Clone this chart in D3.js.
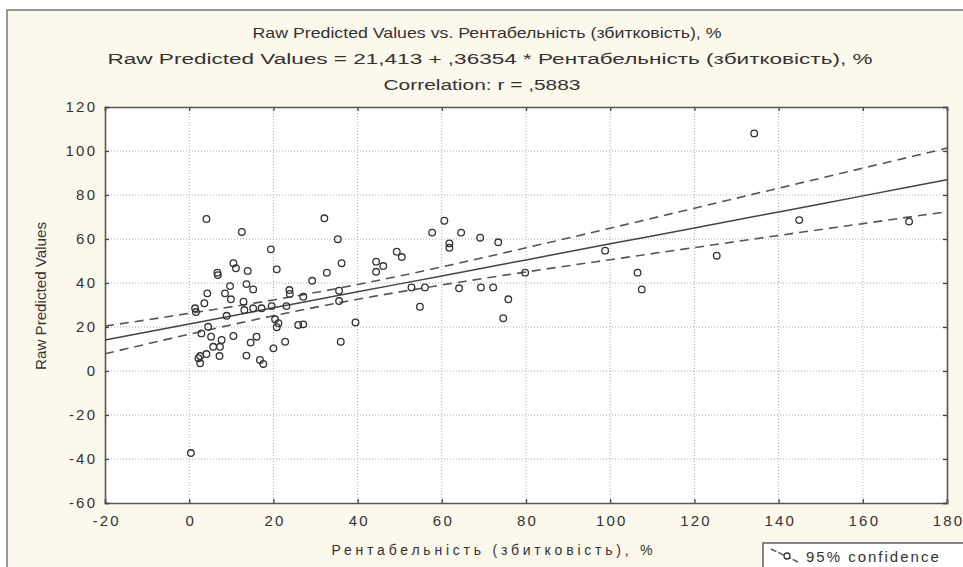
<!DOCTYPE html>
<html>
<head>
<meta charset="utf-8">
<script src="https://cdn.jsdelivr.net/npm/d3@7"></script>
<style>
body { margin: 0; background: #fff; }
svg { display: block; }
text { font-family: "Liberation Sans", Arial, sans-serif; fill: #333; }
</style>
</head>
<body>
<script>
// observed points: Рентабельність (x) and raw predicted value (y)
var xVals = [4.1, 12.5, 0.4, 32.1, 35.3, 19.4, 20.8, 36.2, 32.7, 29.2,
  44.4, 44.4, 46.1, 49.3, 50.5, 60.6, 57.7, 64.6, 69.1, 73.4,
  61.8, 61.8, 79.8, 52.8, 56.0, 64.1, 69.3, 72.2, 54.8, 75.8,
  74.6, 134.2, 98.8, 106.5, 107.5, 125.3, 144.9, 171.0, 10.5, 11.1,
  13.9, 6.7, 6.8, 13.6, 15.2, 9.7, 8.5, 9.9, 4.3, 23.8,
  23.9, 27.1, 35.6, 35.6, 12.9, 13.1, 15.2, 17.2, 3.6, 1.4,
  8.9, 23.1, 19.6, 20.4, 21.2, 20.8, 25.9, 27.1, 39.5, 4.5,
  2.9, 5.2, 10.5, 16.0, 14.6, 7.7, 7.3, 22.8, 36.0, 5.7,
  2.6, 4.1, 7.2, 13.6, 20.0, 2.6, 16.8, 17.6, 2.2, 1.6];
var yVals = [69.1, 63.2, -37.3, 69.4, 59.9, 55.3, 46.2, 49.0, 44.7, 41.0,
  49.7, 45.1, 47.7, 54.2, 51.8, 68.3, 62.9, 62.9, 60.6, 58.5,
  58.0, 56.0, 44.7, 38.0, 38.0, 37.6, 38.0, 38.0, 29.2, 32.6,
  24.0, 108.0, 54.7, 44.7, 37.1, 52.4, 68.6, 67.9, 49.0, 46.7,
  45.5, 44.7, 43.6, 39.5, 37.1, 38.6, 35.3, 32.6, 35.3, 36.8,
  35.0, 33.8, 36.5, 31.8, 31.5, 27.7, 28.5, 28.5, 30.8, 28.5,
  25.1, 29.5, 29.5, 23.5, 21.7, 19.9, 20.9, 21.2, 22.1, 20.1,
  17.1, 15.6, 15.9, 15.6, 12.9, 14.1, 11.0, 13.3, 13.3, 11.0,
  6.8, 7.7, 6.8, 7.0, 10.3, 3.5, 5.0, 3.2, 5.8, 26.8];

// fitted line and 95% confidence band read at these x
var fitX = [-20, 0, 20, 40, 60, 80, 100, 120, 140, 160, 180];
var fitY = [14.1, 21.4, 28.7, 36.0, 43.2, 50.5, 57.8, 65.0, 72.3, 79.6, 86.9];
var upperY = [20.4, 26.2, 32.3, 39.3, 47.3, 56.0, 64.9, 74.0, 83.1, 92.2, 101.3];
var lowerY = [7.8, 16.7, 25.1, 32.6, 39.1, 45.0, 50.6, 56.1, 61.6, 67.0, 72.4];

var xTicks = [-20, 0, 20, 40, 60, 80, 100, 120, 140, 160, 180];
var yTicks = [-60, -40, -20, 0, 20, 40, 60, 80, 100, 120];

var titles = ['Raw Predicted Values vs. Рентабельність (збитковість), %',
  'Raw Predicted Values = 21,413 + ,36354 * Рентабельність (збитковість), %',
  'Correlation: r = ,5883'];

var W = 963, H = 567;
var pLeft = 105, pRight = 947, pTop = 107, pBottom = 503;

var svg = d3.select('body').append('svg').attr('width', W).attr('height', H);

// frame and cream background
svg.append('rect').attr('x', 0).attr('y', 0).attr('width', W).attr('height', H).attr('fill', '#fff');
svg.append('rect').attr('x', 7).attr('y', 10).attr('width', W).attr('height', H)
  .attr('fill', '#fcf8ec').attr('stroke', '#777').attr('stroke-width', 1.5);

var x = d3.scaleLinear().domain([-20, 180]).range([pLeft, pRight]);
var y = d3.scaleLinear().domain([-60, 120]).range([pBottom, pTop]);

svg.append('rect').attr('x', pLeft).attr('y', pTop).attr('width', pRight - pLeft).attr('height', pBottom - pTop)
  .attr('fill', '#fff');

// grid
svg.selectAll('line.gx').data(xTicks.slice(1, -1)).enter().append('line')
  .attr('class', 'gx')
  .attr('x1', d => x(d)).attr('x2', d => x(d)).attr('y1', pTop).attr('y2', pBottom)
  .attr('stroke', '#aaa').attr('stroke-width', 1).attr('stroke-dasharray', '1,2');
svg.selectAll('line.gy').data(yTicks.slice(1, -1)).enter().append('line')
  .attr('class', 'gy')
  .attr('y1', d => y(d)).attr('y2', d => y(d)).attr('x1', pLeft).attr('x2', pRight)
  .attr('stroke', '#aaa').attr('stroke-width', 1).attr('stroke-dasharray', '1,2');

// axes with inner ticks
var fmt = d => String(d);
var ax = svg.append('g').attr('transform', 'translate(0,' + pBottom + ')')
  .call(d3.axisBottom(x).tickValues(xTicks).tickSize(-4).tickPadding(12).tickFormat(fmt));
var axTop = svg.append('g').attr('transform', 'translate(0,' + pTop + ')')
  .call(d3.axisTop(x).tickValues(xTicks).tickSize(-4).tickFormat(''));
var ay = svg.append('g').attr('transform', 'translate(' + pLeft + ',0)')
  .call(d3.axisLeft(y).tickValues(yTicks).tickSize(-4).tickPadding(10).tickFormat(fmt));
var ayR = svg.append('g').attr('transform', 'translate(' + pRight + ',0)')
  .call(d3.axisRight(y).tickValues(yTicks).tickSize(-4).tickFormat(''));

[ax, axTop, ay, ayR].forEach(function(g) {
  g.select('.domain').attr('stroke', '#555').attr('stroke-width', 1.6);
  g.selectAll('.tick line').attr('stroke', '#444').attr('stroke-width', 1.3);
  g.selectAll('text').attr('font-size', 15).attr('font-family', '"Liberation Sans", Arial, sans-serif')
    .attr('fill', '#3a3a3a').style('letter-spacing', '2.2px');
});
// keep right-aligned y labels flush despite trailing spacing
ay.selectAll('text').attr('dx', '2.2px');
ax.selectAll('text').attr('dx', '1.1px');

// fit line and confidence band
var line = (ys) => d3.line().x((d, i) => x(fitX[i])).y(d => y(d)).curve(d3.curveMonotoneX)(ys);
svg.append('path').attr('d', line(fitY)).attr('fill', 'none').attr('stroke', '#444').attr('stroke-width', 1.5);
[upperY, lowerY].forEach(function(ys) {
  svg.append('path').attr('d', line(ys)).attr('fill', 'none').attr('stroke', '#555')
    .attr('stroke-width', 1.6).attr('stroke-dasharray', '9,6');
});

// points
svg.selectAll('circle.pt').data(xVals).enter().append('circle')
  .attr('class', 'pt')
  .attr('cx', d => x(d))
  .attr('cy', (d, i) => y(yVals[i]))
  .attr('r', 3.3)
  .attr('fill', 'none').attr('stroke', '#333').attr('stroke-width', 1.3);

// titles
var titleY = [38, 64, 90], titleLen = [469, 765, 197], titleX = [487, 490, 482];
var titleSize = [15, 14, 14], titleAdj = ['spacingAndGlyphs', 'spacingAndGlyphs', 'spacingAndGlyphs'];
titles.forEach(function(t, i) {
  svg.append('text').attr('x', titleX[i]).attr('y', titleY[i]).attr('text-anchor', 'middle')
    .attr('font-size', titleSize[i]).attr('textLength', titleLen[i]).attr('lengthAdjust', titleAdj[i]).text(t);
});

// axis titles
svg.append('text').attr('x', 492).attr('y', 555).attr('text-anchor', 'middle').attr('font-size', 14)
  .attr('textLength', 321).attr('lengthAdjust', 'spacing').text('Рентабельність (збитковість), %');
svg.append('text').attr('transform', 'translate(46,296) rotate(-90)').attr('text-anchor', 'middle')
  .attr('font-size', 15).attr('textLength', 148).attr('lengthAdjust', 'spacingAndGlyphs').text('Raw Predicted Values');

// legend (cut off at the right edge)
var lg = svg.append('g');
lg.append('rect').attr('x', 763).attr('y', 543).attr('width', 220).attr('height', 40)
  .attr('fill', '#fff').attr('stroke', '#444').attr('stroke-width', 1.3);
lg.append('line').attr('x1', 771).attr('y1', 549).attr('x2', 798).attr('y2', 562)
  .attr('stroke', '#555').attr('stroke-width', 1.4).attr('stroke-dasharray', '6,2');
lg.append('circle').attr('cx', 787).attr('cy', 556).attr('r', 3).attr('fill', '#fff')
  .attr('stroke', '#333').attr('stroke-width', 1.3);
lg.append('text').attr('x', 806).attr('y', 562).attr('font-size', 15)
  .style('letter-spacing', '2px').text('95% confidence');
</script>
</body>
</html>
